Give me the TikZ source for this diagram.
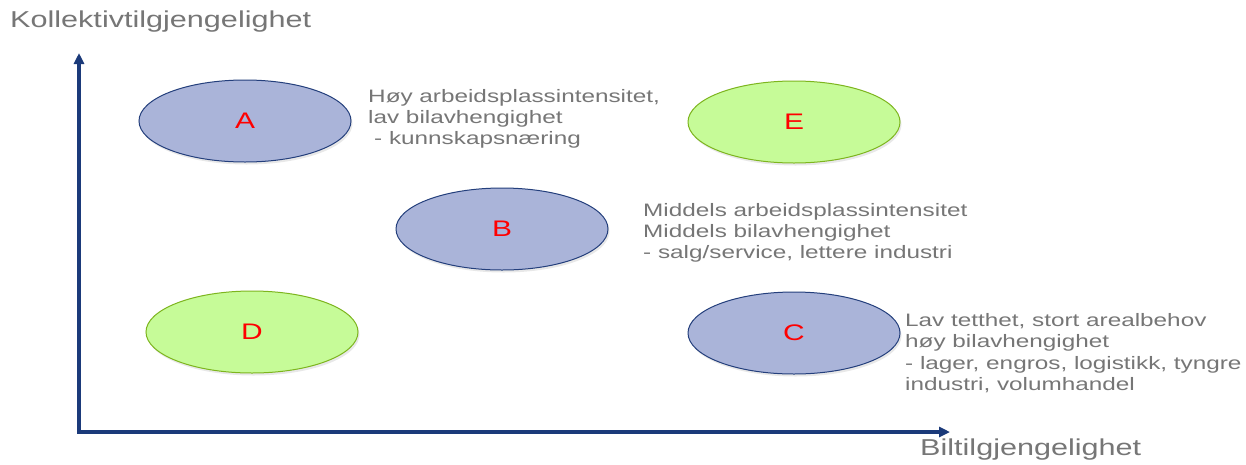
\documentclass[tikz,border=0pt]{standalone}
\usepackage{fontspec}
\setmainfont{Liberation Sans}
\newfontfamily\widefont[FakeStretch=1.33]{Liberation Sans}
\newfontfamily\descfont[FakeStretch=1.35]{Liberation Sans}
\usetikzlibrary{arrows.meta,shapes.geometric,shadows}
\definecolor{axisblue}{HTML}{1B3A7A}
\definecolor{bluefill}{HTML}{AAB4D9}
\definecolor{blueedge}{HTML}{243F7C}
\definecolor{greenfill}{HTML}{C6FB98}
\definecolor{greenedge}{HTML}{7DB51E}
\definecolor{txtgray}{HTML}{767676}
\tikzset{
  zone/.style={ellipse, minimum width=212pt, minimum height=82pt, inner sep=0pt,
    line width=1pt, text=red, font=\widefont\fontsize{22.5}{25}\selectfont,
    drop shadow={opacity=0.18, shadow xshift=1.5pt, shadow yshift=-2.5pt}},
  bluezone/.style={zone, fill=bluefill, draw=blueedge},
  greenzone/.style={zone, fill=greenfill, draw=greenedge},
  desc/.style={anchor=west, inner sep=0pt, align=left, text=txtgray,
    font=\descfont\fontsize{18}{21.3}\selectfont},
  axislabel/.style={anchor=west, inner sep=0pt, text=txtgray,
    font=\widefont\fontsize{23}{26}\selectfont},
  axisline/.style={draw=axisblue, line width=3.5pt, -{Triangle[length=11pt,width=10pt]}}
}
\begin{document}
\begin{tikzpicture}[x=1pt,y=-1pt]
\useasboundingbox (0,0) rectangle (1246,464);
\fill[white] (0,0) rectangle (1246,464);
% axes
\coordinate (origin) at (79,432);
\coordinate (ytip) at (79,53);
\coordinate (xtip) at (950,432);
\draw[axisline] (origin) -- (ytip);
\draw[axisline] ([xshift=-1.75pt]origin) -- (xtip);
\node[axislabel] (ylab) at (10,22) {Kollektivtilgjengelighet};
\node[axislabel] (xlab) at (920,450) {Biltilgjengelighet};
% zones
\node[bluezone] (A) at (245,121) {A};
\node[greenzone] (E) at (794,122) {E};
\node[bluezone] (B) at (502,229) {B};
\node[greenzone] (D) at (252,332) {D};
\node[bluezone] (C) at (794,333) {C};
% descriptions
\node[desc] (tA) at (368,119) {Høy arbeidsplassintensitet,\\lav bilavhengighet\\\hspace{6pt}- kunnskapsnæring};
\node[desc] (tB) at (643,233) {Middels arbeidsplassintensitet\\Middels bilavhengighet\\- salg/service, lettere industri};
\node[desc] (tC) at (905,353) {Lav tetthet, stort arealbehov\\høy bilavhengighet\\- lager, engros, logistikk, tyngre\\industri, volumhandel};
\end{tikzpicture}
\end{document}
